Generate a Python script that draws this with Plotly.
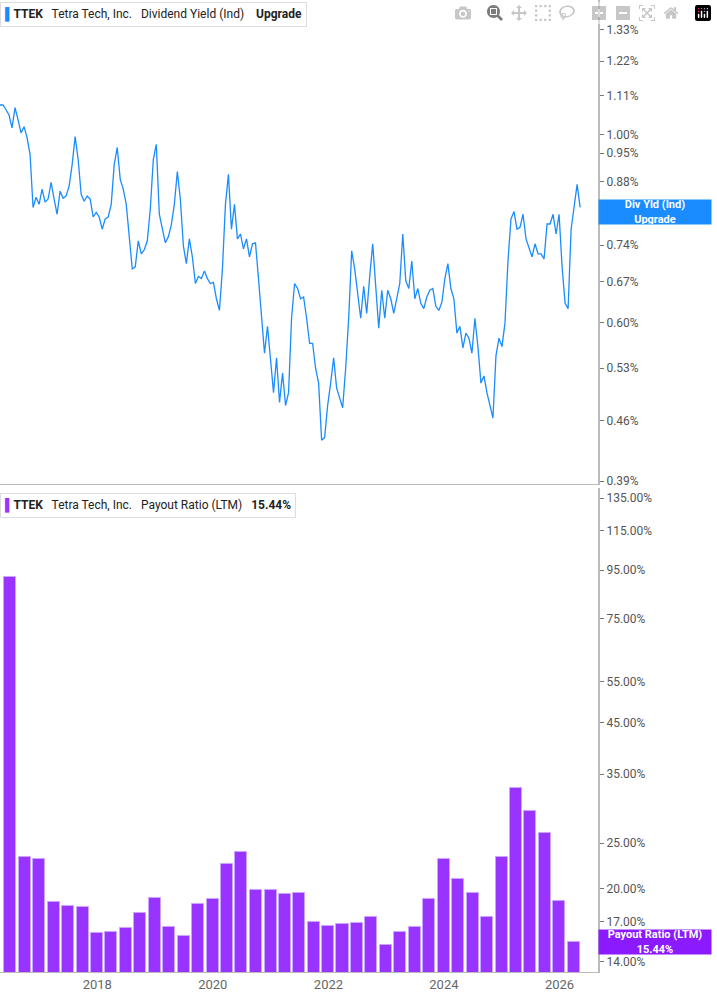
import pandas as pd
import plotly.graph_objects as go
from plotly.subplots import make_subplots

# dividend yield (%), sampled about every 19 days from late April 2016
yield_start = "2016-04-26"
div_yield = [
    1.083, 1.083, 1.069, 1.054, 1.018, 1.075, 1.041, 1.004, 1.021, 0.991,
    0.947, 0.820, 0.843, 0.827, 0.862, 0.832, 0.839, 0.878, 0.839, 0.805,
    0.857, 0.841, 0.846, 0.869, 0.921, 0.994, 0.934, 0.850, 0.834, 0.846,
    0.839, 0.799, 0.809, 0.799, 0.773, 0.795, 0.799, 0.827, 0.921, 0.965,
    0.885, 0.862, 0.827, 0.753, 0.694, 0.698, 0.749, 0.723, 0.731, 0.749,
    0.816, 0.934, 0.973, 0.805, 0.773, 0.745, 0.757, 0.782, 0.827, 0.904,
    0.839, 0.739, 0.704, 0.753, 0.717, 0.667, 0.680, 0.676, 0.690, 0.676,
    0.667, 0.669, 0.640, 0.620, 0.694, 0.827, 0.897, 0.773, 0.827, 0.753,
    0.763, 0.733, 0.753, 0.717, 0.743, 0.745, 0.676, 0.607, 0.552, 0.594,
    0.545, 0.496, 0.545, 0.483, 0.523, 0.479, 0.496, 0.607, 0.667, 0.658,
    0.640, 0.643, 0.607, 0.567, 0.567, 0.530, 0.509, 0.436, 0.439, 0.479,
    0.509, 0.545, 0.502, 0.489, 0.476, 0.530, 0.607, 0.729, 0.694, 0.649,
    0.607, 0.662, 0.615, 0.680, 0.743, 0.662, 0.591, 0.655, 0.607, 0.655,
    0.640, 0.615, 0.640, 0.667, 0.763, 0.672, 0.658, 0.709, 0.640, 0.658,
    0.632, 0.623, 0.643, 0.655, 0.658, 0.627, 0.620, 0.634, 0.676, 0.704,
    0.658, 0.640, 0.583, 0.594, 0.560, 0.583, 0.575, 0.552, 0.607, 0.562,
    0.509, 0.519, 0.496, 0.479, 0.463, 0.548, 0.575, 0.562, 0.599, 0.709,
    0.795, 0.811, 0.773, 0.777, 0.805, 0.753, 0.733, 0.717, 0.743, 0.723,
    0.723, 0.713, 0.784, 0.784, 0.805, 0.763, 0.805, 0.698, 0.632, 0.623,
    0.773, 0.827, 0.873, 0.820,
]
yield_dates = pd.date_range(yield_start, periods=len(div_yield), freq="19D")

# payout ratio (LTM, %), quarterly
payout_start = "2016-06-30"
payout = [
    92.0, 23.4, 23.1, 18.7, 18.4, 18.3, 16.1, 16.2, 16.5, 17.8,
    19.1, 16.6, 15.9, 18.6, 19.0, 22.6, 23.9, 19.9, 19.9, 19.5,
    19.6, 17.0, 16.7, 16.8, 16.9, 17.4, 15.2, 16.2, 16.6, 19.0,
    23.1, 21.0, 19.6, 17.4, 23.3, 32.7, 29.2, 26.2, 18.8, 15.44,
]
payout_dates = pd.date_range(payout_start, periods=len(payout), freq="QE")

yield_ticks = [0.39, 0.46, 0.53, 0.60, 0.67, 0.74, 0.81, 0.88, 0.95, 1.00, 1.11, 1.22, 1.33]
payout_ticks = [14, 17, 20, 25, 35, 45, 55, 75, 95, 115, 135]
year_ticks = ["2018-01-01", "2020-01-01", "2022-01-01", "2024-01-01", "2026-01-01"]
year_labels = ["2018", "2020", "2022", "2024", "2026"]

blue = "#1a8cff"
purple = "#9933ff"
gray = "#555555"

fig = make_subplots(rows=2, cols=1, shared_xaxes=True, vertical_spacing=0.004)

fig.add_trace(go.Scatter(x=yield_dates, y=div_yield, mode="lines",
                         line=dict(color=blue, width=1.3)), row=1, col=1)
fig.add_trace(go.Bar(x=payout_dates, y=payout, marker_color=purple,
                     marker_line=dict(color="#c9a6ff", width=1),
                     width=76 * 24 * 3600 * 1000), row=2, col=1)

fig.update_xaxes(range=["2016-04-26", "2026-09-01"], showgrid=False,
                 tickvals=year_ticks, ticktext=year_labels,
                 tickfont=dict(size=13, color="#666666", family="Roboto"),
                 showline=True, linecolor="#bbbbbb", linewidth=1)
fig.update_xaxes(showticklabels=False, row=1, col=1)

fig.update_yaxes(type="log", side="right", showgrid=False, showline=True,
                 linecolor="#bbbbbb", linewidth=2, ticks="outside", ticklen=4,
                 tickcolor="#777777", tickfont=dict(size=12, color=gray, family="Roboto"))
fig.update_yaxes(range=[-0.4123, 0.1584], tickvals=yield_ticks,
                 ticktext=["%.2f%%" % t for t in yield_ticks], row=1, col=1)
fig.update_yaxes(range=[1.124, 2.152], tickvals=payout_ticks,
                 ticktext=["%.2f%%" % t for t in payout_ticks], row=2, col=1)

# legend boxes
fig.add_annotation(xref="paper", yref="paper", x=0.0, y=0.998, xanchor="left", yanchor="top",
                   text="<span style='color:%s'>▌</span><b>TTEK</b>   Tetra Tech, Inc.   "
                        "Dividend Yield (Ind)    <b>Upgrade</b>" % blue,
                   showarrow=False, font=dict(size=12, color="#222222", family="Roboto"),
                   bgcolor="white", bordercolor="#dddddd", borderwidth=1, borderpad=4)
fig.add_annotation(xref="paper", yref="paper", x=0.0, y=0.493, xanchor="left", yanchor="top",
                   text="<span style='color:%s'>▌</span><b>TTEK</b>   Tetra Tech, Inc.   "
                        "Payout Ratio (LTM)   <b>15.44%%</b>" % purple,
                   showarrow=False, font=dict(size=12, color="#222222", family="Roboto"),
                   bgcolor="white", bordercolor="#dddddd", borderwidth=1, borderpad=4)

# last value labels on the right axis
fig.add_annotation(xref="paper", yref="y", x=1.0, y=-0.0915, xanchor="left",
                   text="<b>Div Yld (Ind)<br>Upgrade</b>", showarrow=False,
                   font=dict(size=11, color="white", family="Roboto"),
                   bgcolor=blue, width=112, height=24, borderpad=0)
fig.add_annotation(xref="paper", yref="y2", x=1.0, y=1.1886, xanchor="left",
                   text="<b>Payout Ratio (LTM)<br>15.44%</b>", showarrow=False,
                   font=dict(size=11, color="white", family="Roboto"),
                   bgcolor="#8c1aff", width=112, height=24, borderpad=0)

fig.update_layout(width=717, height=1005, showlegend=False, bargap=0,
                  plot_bgcolor="white", paper_bgcolor="white",
                  margin=dict(l=0, r=119, t=0, b=33))

fig.write_html("out.html", post_script="document.body.style.margin='0';")
